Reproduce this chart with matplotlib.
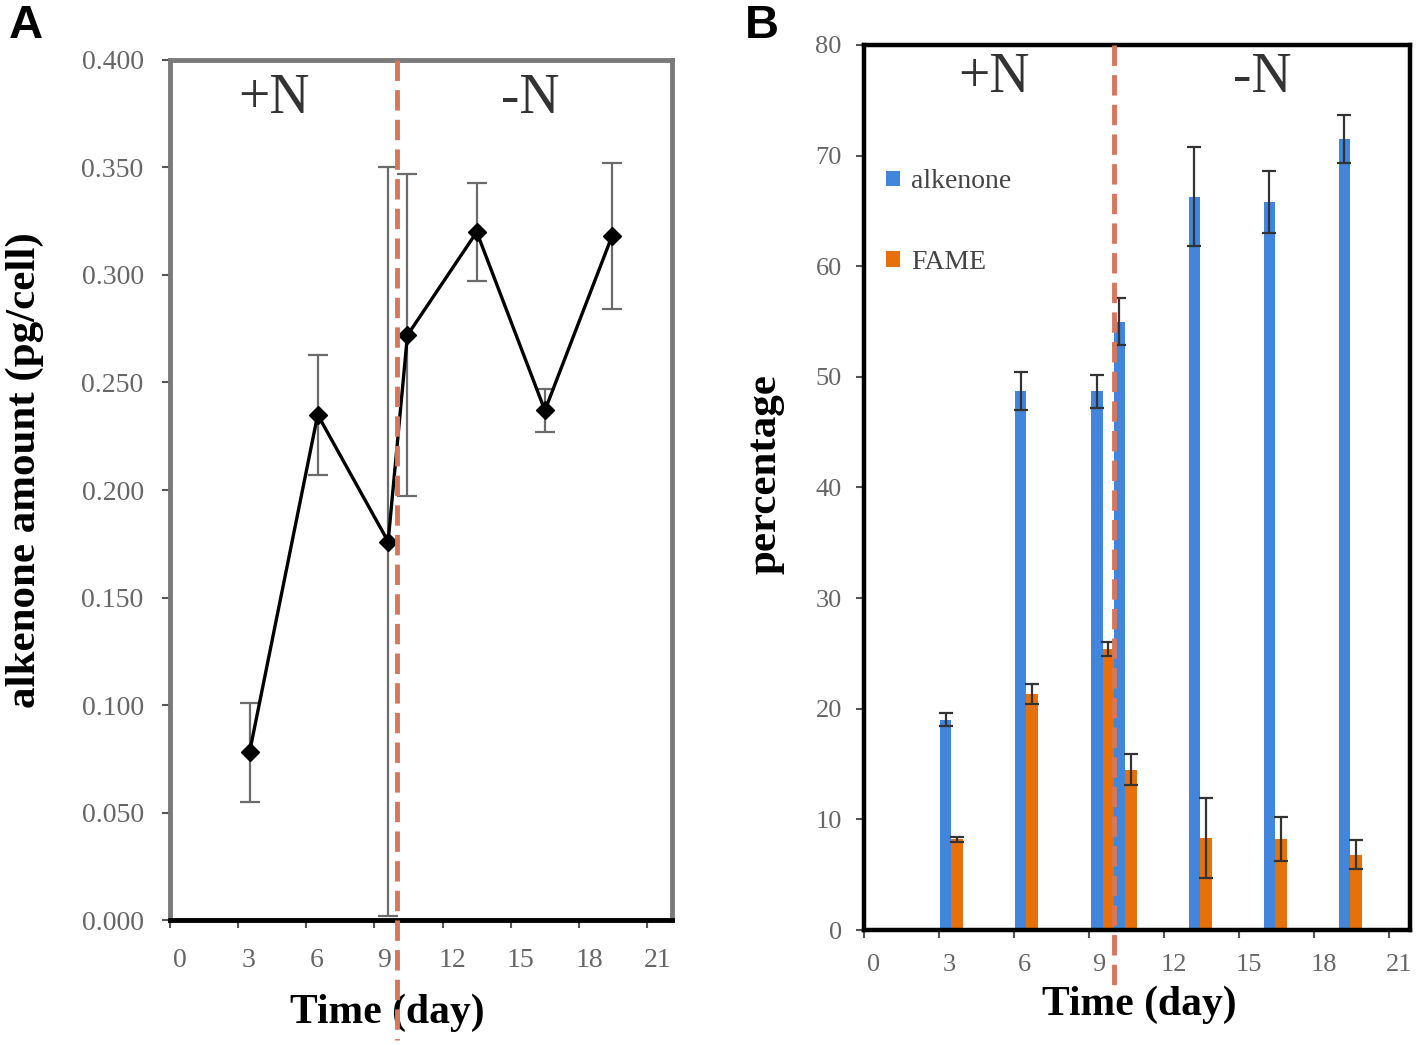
import matplotlib
matplotlib.use("Agg")
import matplotlib.pyplot as plt
import numpy as np
from matplotlib.transforms import blended_transform_factory, ScaledTranslation

# ---------------- data ----------------
days = [3.5, 6.5, 9.6, 10.45, 13.5, 16.5, 19.45]
alk_amount = [0.078, 0.235, 0.176, 0.272, 0.320, 0.237, 0.318]
alk_amount_err = [0.023, 0.028, 0.174, 0.075, 0.023, 0.010, 0.034]

bar_days = [3.5, 6.5, 9.55, 10.45, 13.45, 16.45, 19.45]
alkenone_pct = [19.0, 48.7, 48.7, 55.0, 66.3, 65.8, 71.5]
alkenone_err = [0.6, 1.7, 1.5, 2.1, 4.5, 2.8, 2.2]
fame_pct = [8.2, 21.3, 25.4, 14.5, 8.3, 8.2, 6.8]
fame_err = [0.2, 0.9, 0.6, 1.4, 3.6, 2.0, 1.3]

xticks = [0, 3, 6, 9, 12, 15, 18, 21]
yticks_a = [0.0, 0.05, 0.10, 0.15, 0.20, 0.25, 0.30, 0.35, 0.40]
yticks_b = [0, 10, 20, 30, 40, 50, 60, 70, 80]
switch_day = 10.0

SERIF = ["Liberation Serif", "DejaVu Serif"]
plt.rcParams['font.family'] = SERIF

fig = plt.figure(figsize=(14.18, 10.45), dpi=100)
shift = ScaledTranslation(10 / 100, 0, fig.dpi_scale_trans)
DASH = (0, (4.2, 1.9))
RED = '#d8765c'

# ---------------- Panel A ----------------
axA = fig.add_axes([0.1199, 0.1196, 0.474 - 0.1199, 0.9426 - 0.1196])
axA.errorbar(days, alk_amount, yerr=alk_amount_err, fmt='none', ecolor='#6b6b6b',
             elinewidth=1.6, capsize=7, capthick=1.6, zorder=2)
axA.plot(days, alk_amount, color='black', lw=2.4, marker='D', markersize=9.5,
         markerfacecolor='black', markeredgecolor='black', zorder=3)
axA.set_xlim(0, 22.1)
axA.set_ylim(0, 0.4)
axA.set_xticks(xticks)
axA.set_yticks(yticks_a)
axA.set_yticklabels([f"{v:.3f}" for v in yticks_a])
for s in ['left', 'right', 'top']:
    axA.spines[s].set_color('#7a7a7a')
    axA.spines[s].set_linewidth(3.5)
axA.spines['bottom'].set_color('black')
axA.spines['bottom'].set_linewidth(3.5)
axA.tick_params(axis='both', direction='out', length=6, width=1.5, color='#555555',
                labelcolor='#666666', labelsize=20)
axA.tick_params(axis='y', pad=13)
axA.tick_params(axis='x', pad=14)
for lab in axA.get_xticklabels():
    lab.set_transform(lab.get_transform() + shift)
axA.set_xlabel("Time (day)", fontsize=30, fontweight='bold')
axA.xaxis.label.set_verticalalignment('center')
axA.xaxis.set_label_coords(0.432, -0.108)
axA.set_ylabel("alkenone amount (pg/cell)", fontsize=31, fontweight='bold')
axA.yaxis.label.set_verticalalignment('center')
axA.yaxis.set_label_coords(-0.289, 0.523)
trA = blended_transform_factory(axA.transData, axA.transAxes)
axA.plot([switch_day, switch_day], [1.0, -0.14], transform=trA, color=RED,
         lw=3.5, ls=DASH, clip_on=False, zorder=4)
axA.text(0.208, 0.955, "+N", transform=axA.transAxes, fontsize=40, color='#333333',
         ha='center', va='center')
axA.text(0.718, 0.955, "-N", transform=axA.transAxes, fontsize=40, color='#333333',
         ha='center', va='center')

# ---------------- Panel B ----------------
axB = fig.add_axes([0.6093, 0.110, 0.9944 - 0.6093, 0.957 - 0.110])
w = 0.46
bx = np.array(bar_days)
axB.bar(bx - w / 2, alkenone_pct, width=w, color='#4285dc', label='alkenone', zorder=2)
axB.bar(bx + w / 2, fame_pct, width=w, color='#e8700a', label='FAME', zorder=2)
axB.errorbar(bx - w / 2, alkenone_pct, yerr=alkenone_err, fmt='none', ecolor='#333333',
             elinewidth=1.6, capsize=5, capthick=1.6, zorder=3)
axB.errorbar(bx + w / 2, fame_pct, yerr=fame_err, fmt='none', ecolor='#333333',
             elinewidth=1.6, capsize=5, capthick=1.6, zorder=3)
axB.set_xlim(0, 21.85)
axB.set_ylim(0, 80)
axB.set_xticks(xticks)
axB.set_yticks(yticks_b)
for s in axB.spines.values():
    s.set_color('black')
    s.set_linewidth(3.2)
axB.tick_params(axis='both', direction='out', length=6, width=1.5, color='#555555',
                labelcolor='#666666', labelsize=19)
axB.tick_params(axis='y', pad=10)
axB.tick_params(axis='x', pad=11)
for lab in axB.get_xticklabels():
    lab.set_transform(lab.get_transform() + shift)
axB.set_xlabel("Time (day)", fontsize=30, fontweight='bold')
axB.xaxis.label.set_verticalalignment('center')
axB.xaxis.set_label_coords(0.505, -0.084)
axB.set_ylabel("percentage", fontsize=31, fontweight='bold')
axB.yaxis.label.set_verticalalignment('center')
axB.yaxis.set_label_coords(-0.181, 0.515)
trB = blended_transform_factory(axB.transData, axB.transAxes)
axB.plot([switch_day, switch_day], [1.0, -0.068], transform=trB, color=RED,
         lw=3.5, ls=DASH, clip_on=False, zorder=4)
axB.text(0.238, 0.963, "+N", transform=axB.transAxes, fontsize=40, color='#333333',
         ha='center', va='center')
axB.text(0.73, 0.963, "-N", transform=axB.transAxes, fontsize=40, color='#333333',
         ha='center', va='center')
leg = axB.legend(loc='upper left', bbox_to_anchor=(0.02, 0.872), frameon=False,
                 fontsize=20, handlelength=0.5, handleheight=0.5, handletextpad=0.4,
                 labelspacing=2.0, borderaxespad=0)
for t in leg.get_texts():
    t.set_color('#444444')

# panel letters
fig.text(0.006, 0.975, "A", fontsize=34, fontweight='bold', family=['Liberation Sans', 'DejaVu Sans'],
         ha='left', va='center')
fig.text(0.525, 0.975, "B", fontsize=34, fontweight='bold', family=['Liberation Sans', 'DejaVu Sans'],
         ha='left', va='center')

fig.savefig("out.png", dpi=100)
